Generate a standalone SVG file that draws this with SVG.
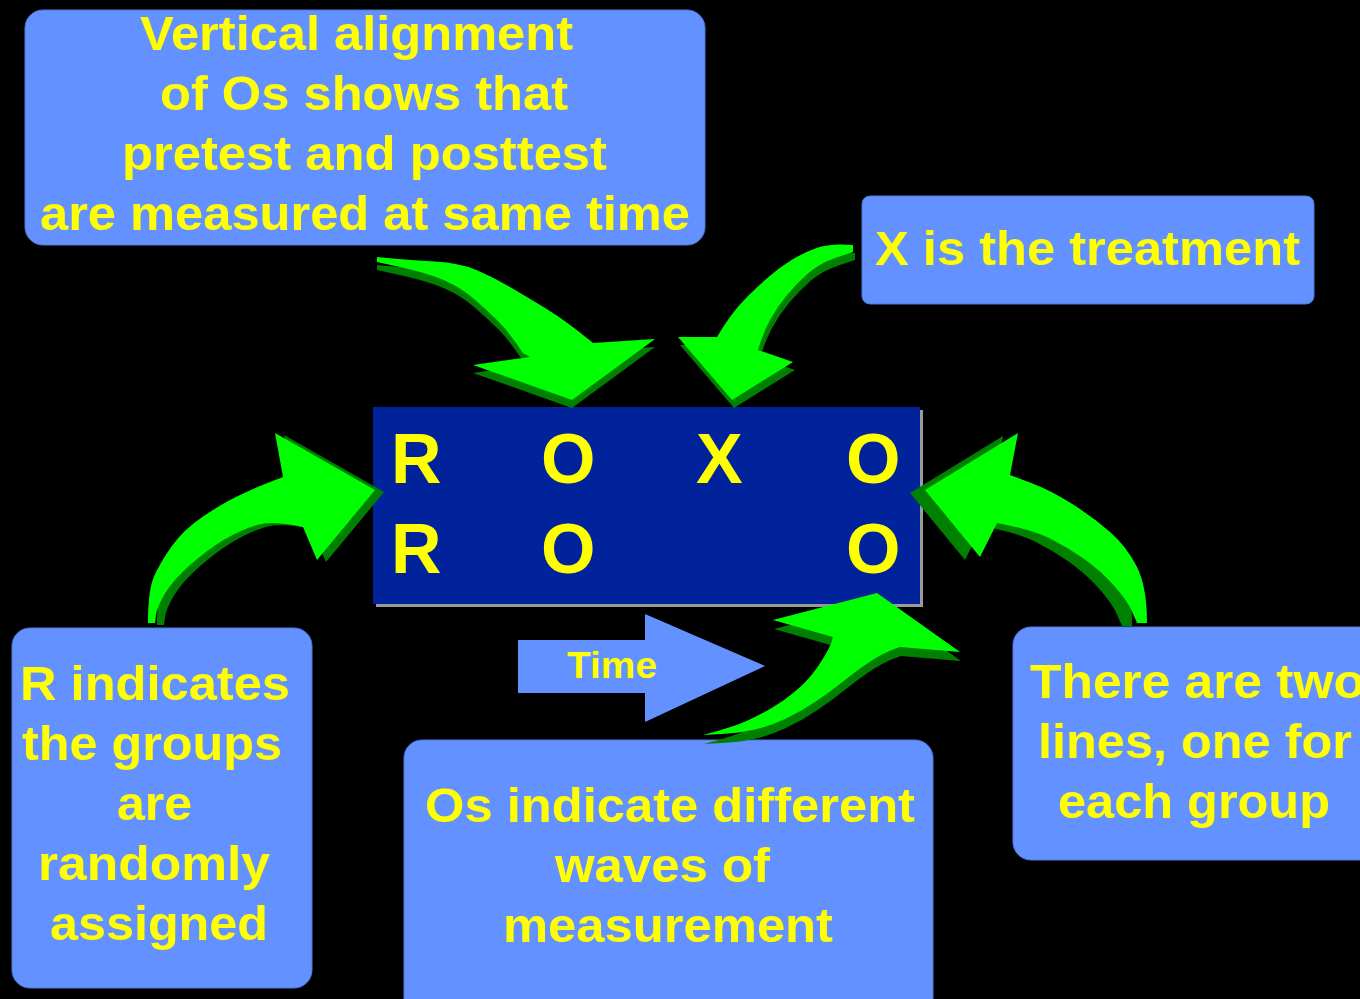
<svg xmlns="http://www.w3.org/2000/svg" width="1360" height="999" viewBox="0 0 1360 999">
  <style>
    .box { fill: #6391FF; stroke: #4F78D8; stroke-width: 1; }
    .lbl { fill: #FFFF00; font-family: "Liberation Sans", Arial, sans-serif; font-weight: bold; }
    .big { font-size: 48px; }
    .cell { fill: #FFFF00; font-family: "Liberation Sans", Arial, sans-serif; font-weight: bold; font-size: 70px; }
    .hi { fill: #00FF00; }
    .lo { fill: #008000; }
  </style>

  <rect x="0" y="0" width="1360" height="999" fill="#000000"/>

  <!-- design block -->
  <g id="design">
    <rect x="376" y="410" width="547" height="197" fill="#9A9A9A"/>
    <rect x="373" y="407" width="547" height="197" fill="#00229A"/>
    <text class="cell" x="391" y="483">R</text>
    <text class="cell" x="541" y="483">O</text>
    <text class="cell" x="696" y="483">X</text>
    <text class="cell" x="846" y="483">O</text>
    <text class="cell" x="391" y="573">R</text>
    <text class="cell" x="541" y="573">O</text>
    <text class="cell" x="846" y="573">O</text>
  </g>

  <!-- time arrow -->
  <g id="time">
    <path d="M518,640 L645,640 L645,614 L765,666 L645,722 L645,693 L518,693 Z" fill="#6391FF"/>
    <text class="lbl" x="567" y="678" font-size="36" textLength="90" lengthAdjust="spacingAndGlyphs">Time</text>
  </g>

  <!-- callout boxes -->
  <g id="note-alignment">
    <rect class="box" x="25" y="10" width="680" height="235" rx="18"/>
    <text class="lbl big" x="140" y="50" textLength="433" lengthAdjust="spacingAndGlyphs">Vertical alignment</text>
    <text class="lbl big" x="160" y="110" textLength="408" lengthAdjust="spacingAndGlyphs">of Os shows that</text>
    <text class="lbl big" x="122" y="170" textLength="485" lengthAdjust="spacingAndGlyphs">pretest and posttest</text>
    <text class="lbl big" x="40" y="230" textLength="650" lengthAdjust="spacingAndGlyphs">are measured at same time</text>
  </g>

  <g id="note-treatment">
    <rect class="box" x="862" y="196" width="452" height="108" rx="8"/>
    <text class="lbl big" x="875" y="265" textLength="425" lengthAdjust="spacingAndGlyphs">X is the treatment</text>
  </g>

  <g id="note-random">
    <rect class="box" x="12" y="628" width="300" height="360" rx="18"/>
    <text class="lbl big" x="20" y="700" textLength="270" lengthAdjust="spacingAndGlyphs">R indicates</text>
    <text class="lbl big" x="22" y="760" textLength="260" lengthAdjust="spacingAndGlyphs">the groups</text>
    <text class="lbl big" x="117" y="820" textLength="75" lengthAdjust="spacingAndGlyphs">are</text>
    <text class="lbl big" x="38" y="880" textLength="232" lengthAdjust="spacingAndGlyphs">randomly</text>
    <text class="lbl big" x="50" y="940" textLength="218" lengthAdjust="spacingAndGlyphs">assigned</text>
  </g>

  <g id="note-waves">
    <rect class="box" x="404" y="740" width="529" height="280" rx="18"/>
    <text class="lbl big" x="425" y="822" textLength="490" lengthAdjust="spacingAndGlyphs">Os indicate different</text>
    <text class="lbl big" x="555" y="882" textLength="215" lengthAdjust="spacingAndGlyphs">waves of</text>
    <text class="lbl big" x="503" y="942" textLength="330" lengthAdjust="spacingAndGlyphs">measurement</text>
  </g>

  <g id="note-lines">
    <rect class="box" x="1013" y="627" width="370" height="233" rx="18"/>
    <text class="lbl big" x="1030" y="698" textLength="335" lengthAdjust="spacingAndGlyphs">There are two</text>
    <text class="lbl big" x="1038" y="758" textLength="314" lengthAdjust="spacingAndGlyphs">lines, one for</text>
    <text class="lbl big" x="1058" y="818" textLength="272" lengthAdjust="spacingAndGlyphs">each group</text>
  </g>

  <!-- curved pointer arrows: dark extrusion underneath, bright face on top -->
  <g id="connectors">
    <defs>
      <path id="arrA" d="M377,257 Q410,260 435,261.5 Q460,263 476.5,270 Q493,277 510,287 Q527,297 543.5,307 Q560,317 573.5,327.5 Q587,338 590,340.5 L593,343 L655,339 L572,400 L473,365 L530,357 L523,353 Q510,333 498.5,321.5 Q487,310 473.5,298.5 Q460,287 443.5,280 Q427,273 402,267.5 L377,262 Z"/>
      <path id="arrB" d="M853,245 Q830,243 816.5,248 Q803,253 791.5,260 Q780,267 768.5,277 Q757,287 747,297 Q737,307 730,317 Q723,327 720,332 L717,337 L678,337 L732,400 L793,362 L758,350 Q763,333 770,320 Q777,307 787,295 Q797,283 808.5,273 Q820,263 836.5,257.5 L853,252 Z"/>
      <path id="arrC" d="M148,623 Q148,590 154,576.5 Q160,563 171.5,546.5 Q183,530 203,516.5 Q223,503 240,495 Q257,487 270,482 L283,477 L275,433 L375,490 L317,560 L303,527 Q273,520 256.5,525 Q240,530 223.5,540 Q207,550 190,565 Q173,580 165,593.5 Q157,607 156,615 L155,623 Z"/>
      <path id="arrD" d="M1147,623 Q1147,587 1137,567 Q1127,547 1110,532 Q1093,517 1071.5,503.5 Q1050,490 1030,482.5 L1010,475 L1018,433 L925,490 L980,557 L997,523 Q1033,530 1050,538.5 Q1067,547 1083.5,558.5 Q1100,570 1113.5,585 Q1127,600 1132,611.5 L1137,623 Z"/>
      <path id="arrE" d="M703,735 Q733,727 746.5,721 Q760,715 772.5,707.5 Q785,700 795,691.5 Q805,683 811.5,675 Q818,667 824,657 Q830,647 831.5,642 L833,637 L773,620 L877,593 L960,652 L900,647 Q885,652 872.5,660 Q860,668 845,680 Q830,692 815,702 Q800,712 785,719 Q770,726 755,729.5 Q740,733 721.5,734 Z"/>
    </defs>
    <use href="#arrA" class="lo" transform="translate(0,8)"/>
    <use href="#arrA" class="hi"/>
    <use href="#arrB" class="lo" transform="translate(2,8)"/>
    <use href="#arrB" class="hi"/>
    <use href="#arrC" class="lo" transform="translate(9,2)"/>
    <use href="#arrC" class="hi"/>
    <use href="#arrD" class="lo" transform="translate(-15,3)"/>
    <use href="#arrD" class="hi"/>
    <use href="#arrE" class="lo" transform="translate(1,9)"/>
    <use href="#arrE" class="hi"/>
  </g>
</svg>
